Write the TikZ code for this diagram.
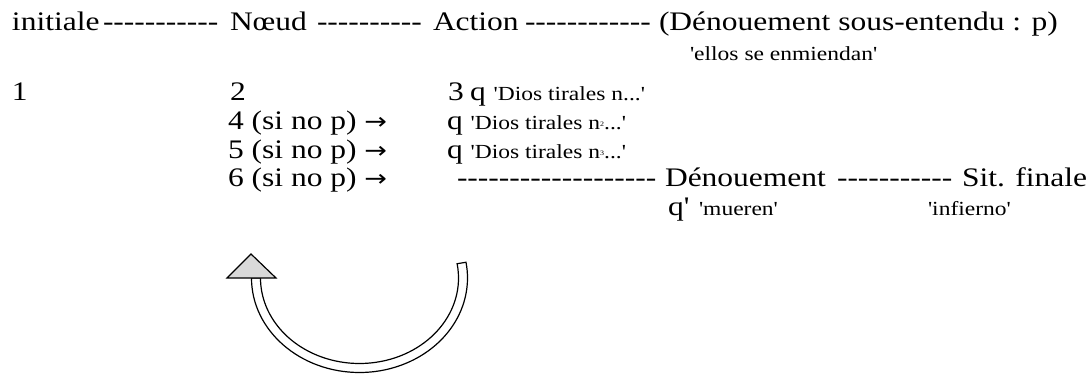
\documentclass[tikz,border=0pt]{standalone}
\usepackage{graphicx}
\usepackage{fontspec}
\setmainfont{Liberation Serif}[Ligatures=TeXOff]
\newfontfamily\arrowfont{DejaVu Sans}
\newcommand\bigf{\fontsize{31.5}{36}\selectfont}
\newcommand\smallf{\fontsize{23.5}{27}\selectfont}
\newcommand\sq{\char"0027\relax}
\newcommand\tinysup[1]{\raisebox{4pt}{\fontsize{8}{8}\selectfont #1}}
\newcommand\rarr{{\arrowfont\fontsize{27}{30}\selectfont →}}
\newcommand\V[1]{\scalebox{1}[0.85]{#1}}
\tikzset{
  txt/.style={anchor=base west, inner sep=0pt, outer sep=0pt, font=\bigf},
  stxt/.style={anchor=base west, inner sep=0pt, outer sep=0pt, font=\smallf},
  loopshaft/.style={draw=black, line width=1.2pt, fill=white},
  loophead/.style={draw=black, line width=1.2pt, fill=black!15, line join=miter},
}
\begin{document}
\begin{tikzpicture}[x=1pt,y=1pt]
\useasboundingbox (0,0) rectangle (1089,-374);
% row 1
\node[txt] (ini) at (12,-31) {\V{initiale}};
\node[txt] (da) at (103,-31) {\V{-----------}};
\node[txt] (noeud) at (230,-31) {\V{Nœud}};
\node[txt] (db) at (317,-31) {\V{----------}};
\node[txt] (action) at (433,-31) {\V{Action}};
\node[txt] (dc) at (525,-31) {\V{------------}};
\node[txt] (denso) at (659,-31) {\V{(Dénouement sous-entendu : p)}};
\node[stxt] (ellos) at (690,-61) {\V{\sq ellos se enmiendan\sq}};
% row 2
\node[txt] (n1) at (12,-101) {\V{1}};
\node[txt] (n2) at (230,-101) {\V{2}};
\node[txt] (n3) at (448,-101) {\V{3}};
\node[txt] (q1) at (470,-101) {\V{q {\smallf\sq Dios tirales n...\sq}}};
% rows 4-6
\node[txt] (n4) at (228,-130) {\V{4 (si no p) \rarr}};
\node[txt] (q2) at (447,-130) {\V{q {\smallf\sq Dios tirales n\tinysup{2}...\sq}}};
\node[txt] (n5) at (228,-158.5) {\V{5 (si no p) \rarr}};
\node[txt] (q3) at (447,-158.5) {\V{q {\smallf\sq Dios tirales n\tinysup{3}...\sq}}};
\node[txt] (n6) at (228,-187) {\V{6 (si no p) \rarr}};
\node[txt] (dd) at (457,-187) {\V{-------------------}};
\node[txt] (den) at (665,-187) {\V{Dénouement}};
\node[txt] (de) at (837,-187) {\V{-----------}};
\node[txt] (sit) at (962,-187) {\V{Sit. finale}};
% last row
\node[txt] (qp) at (668,-215) {\V{q\sq}};
\node[stxt] (mueren) at (699,-215) {\V{\sq mueren\sq}};
\node[stxt] (infierno) at (928,-215) {\V{\sq infierno\sq}};
% curved return arrow
\coordinate (c) at (359.5,-278);
\draw[loopshaft] (251.5,-278) arc[start angle=180, end angle=369.6, x radius=108, y radius=94.5]
  -- ([shift={(c)}]369.6:99 and 85.5)
  arc[start angle=369.6, end angle=180, x radius=99, y radius=85.5] -- cycle;
\draw[loophead] (251,-254) -- (276,-278) -- (227,-278) -- cycle;
\end{tikzpicture}
\end{document}
